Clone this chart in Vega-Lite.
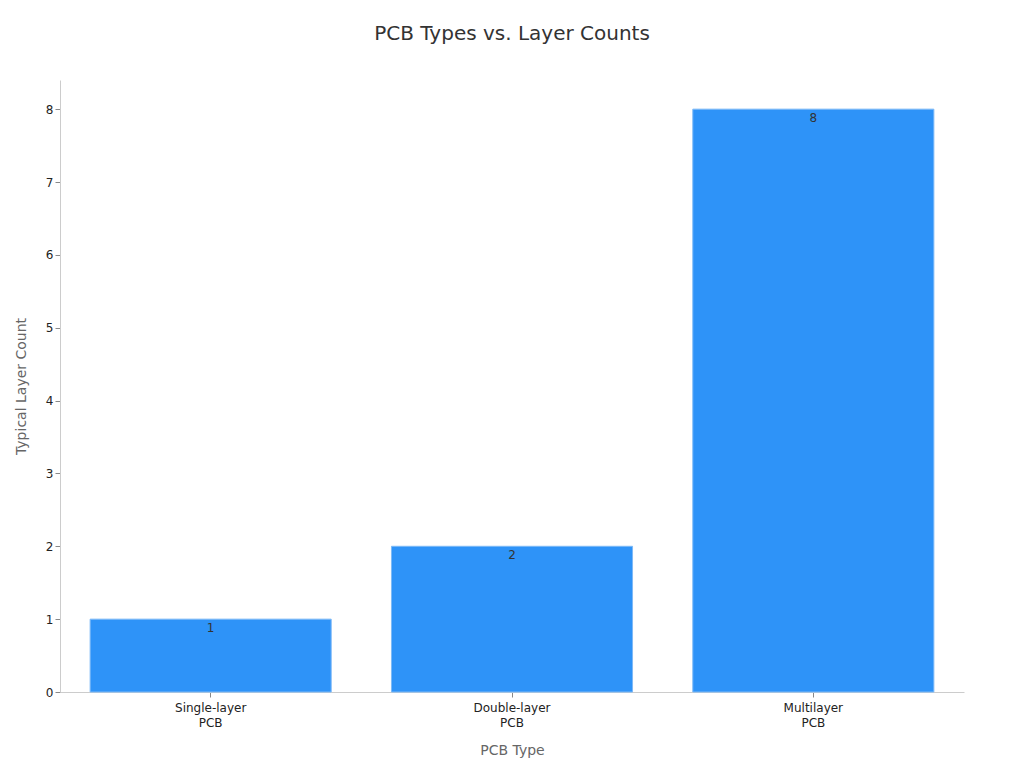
{
  "$schema": "https://vega.github.io/schema/vega-lite/v6.json",
  "autosize": "none",
  "width": 904,
  "height": 612,
  "padding": {"left": 60, "top": 80, "right": 60, "bottom": 76},
  "background": "white",
  "title": {
    "text": "PCB Types vs. Layer Counts",
    "fontSize": 20,
    "font": "DejaVu Sans",
    "fontWeight": "normal",
    "color": "#333333",
    "offset": 36
  },
  "config": {
    "view": {"stroke": null},
    "font": "DejaVu Sans"
  },
  "data": {
    "values": [
      {"type": "Single-layer PCB", "layers": 1},
      {"type": "Double-layer PCB", "layers": 2},
      {"type": "Multilayer PCB", "layers": 8}
    ]
  },
  "encoding": {
    "x": {
      "field": "type",
      "type": "nominal",
      "sort": null,
      "scale": {"paddingInner": 0.2, "paddingOuter": 0.1},
      "title": "PCB Type",
      "axis": {
        "labelAngle": 0,
        "labelExpr": "split(datum.label, ' ')",
        "labelFontSize": 12,
        "labelColor": "#222222",
        "labelLineHeight": 15,
        "labelPadding": 5,
        "tickColor": "#888888",
        "domainColor": "#cccccc",
        "titleFontSize": 14,
        "titleFontWeight": "normal",
        "titleColor": "#666666",
        "titlePadding": 15
      }
    },
    "y": {
      "field": "layers",
      "type": "quantitative",
      "scale": {"domain": [0, 8.4], "nice": false},
      "title": "Typical Layer Count",
      "axis": {
        "values": [0, 1, 2, 3, 4, 5, 6, 7, 8],
        "grid": false,
        "labelFontSize": 12,
        "labelColor": "#222222",
        "tickColor": "#888888",
        "domainColor": "#cccccc",
        "titleFontSize": 14,
        "titleFontWeight": "normal",
        "titleColor": "#666666",
        "titlePadding": 17
      }
    }
  },
  "layer": [
    {
      "mark": {"type": "bar", "color": "#2e93f8", "stroke": "#7db9f7", "strokeWidth": 1}
    },
    {
      "mark": {"type": "text", "baseline": "top", "dy": 4, "fontSize": 12, "color": "#333333"},
      "encoding": {"text": {"field": "layers", "type": "quantitative"}}
    }
  ]
}
